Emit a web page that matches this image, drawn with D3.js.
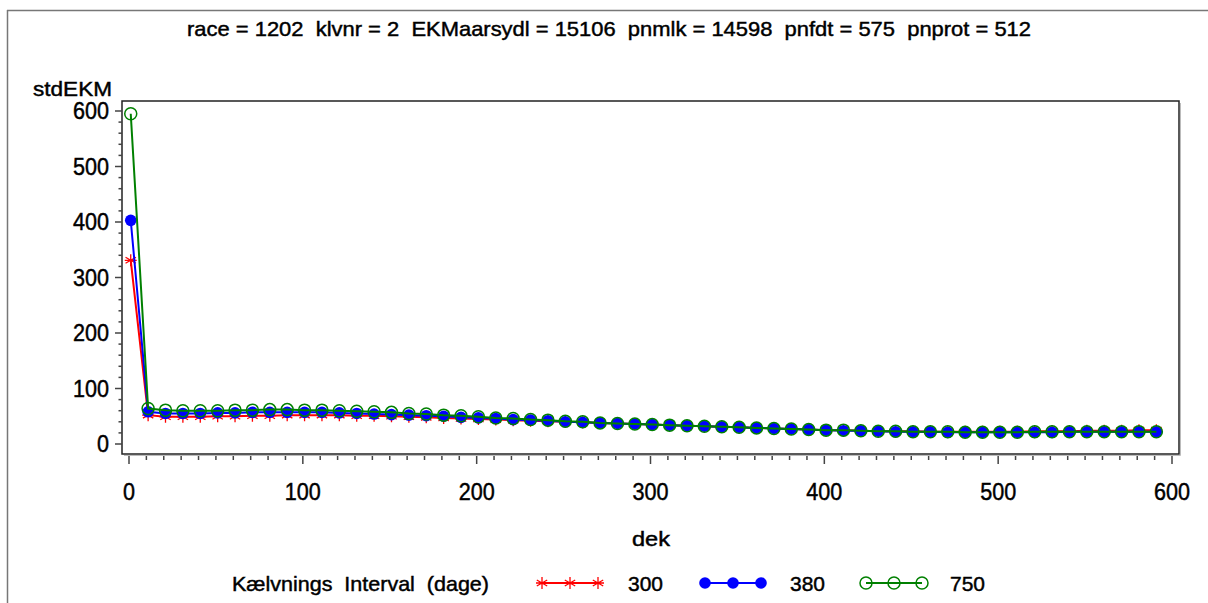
<!DOCTYPE html>
<html>
<head>
<meta charset="utf-8">
<script src="https://cdn.jsdelivr.net/npm/d3@7"></script>
<style>
  html, body { margin: 0; padding: 0; background: #fff; }
  svg { display: block; font-family: "Liberation Sans", Arial, sans-serif; }
  svg text { fill: #000; stroke: #000; stroke-width: 0.45px; white-space: pre; }
</style>
</head>
<body>
<svg id="chart" width="1208" height="603"></svg>
<script>
// Days in milk (dek) sampled every 10 days
const dek = d3.range(1, 600, 10);

const series300 = [331, 52, 49, 49, 49, 50, 50, 51, 51, 52, 52, 52, 52, 51, 51, 50, 49, 48, 47, 46,
  45, 44, 43, 42, 41, 40, 39, 38, 37, 36, 35, 34, 33, 32, 31, 30, 29, 28, 27, 26,
  25, 25, 24, 23, 23, 23, 22, 22, 22, 22, 22, 22, 23, 23, 23, 24, 24, 24, 25, 25];
const series380 = [403, 58, 55, 55, 55, 56, 56, 57, 57, 57, 57, 57, 56, 55, 54, 53, 52, 51, 50, 48,
  47, 46, 44, 43, 42, 40, 39, 38, 37, 36, 35, 34, 33, 32, 31, 30, 29, 28, 27, 26,
  25, 24, 24, 23, 22, 22, 22, 21, 21, 21, 21, 21, 21, 21, 22, 22, 22, 22, 22, 22];
const series750 = [595, 64, 61, 60, 60, 60, 61, 61, 62, 62, 61, 61, 60, 59, 58, 57, 55, 54, 52, 51,
  49, 47, 46, 44, 43, 41, 40, 38, 37, 36, 35, 34, 33, 32, 31, 30, 29, 28, 27, 26,
  25, 25, 24, 23, 23, 22, 22, 22, 21, 21, 21, 21, 22, 22, 22, 22, 22, 22, 22, 22];

const seriesNames = ["300", "380", "750"];
const xTicks = [0, 100, 200, 300, 400, 500, 600];
const yTicks = [0, 100, 200, 300, 400, 500, 600];
const titleText = "race = 1202  klvnr = 2  EKMaarsydl = 15106  pnmlk = 14598  pnfdt = 575  pnprot = 512";

const svg = d3.select("#chart");

// outer page border (top and left edges)
svg.append("line").attr("x1", 7).attr("x2", 1208).attr("y1", 10.5).attr("y2", 10.5)
  .attr("stroke", "#777").attr("stroke-width", 1.5);
svg.append("line").attr("x1", 7.5).attr("x2", 7.5).attr("y1", 10).attr("y2", 603)
  .attr("stroke", "#777").attr("stroke-width", 1.5);

const x = d3.scaleLinear().domain([0, 600]).range([129, 1172]);
const y = d3.scaleLinear().domain([0, 600]).range([444, 111]);

const frame = { left: 122, right: 1179, top: 101, bottom: 454 };

// plot frame
svg.append("rect")
  .attr("x", frame.left).attr("y", frame.top)
  .attr("width", frame.right - frame.left).attr("height", frame.bottom - frame.top)
  .attr("fill", "none").attr("stroke", "#222").attr("stroke-width", 1.5);
// drop shadow on right/bottom of frame
svg.append("path")
  .attr("d", `M${frame.right + 1.5},${frame.top + 2} V${frame.bottom + 1.5} H${frame.left + 2}`)
  .attr("fill", "none").attr("stroke", "#bbb").attr("stroke-width", 1);

// title
svg.append("text")
  .attr("x", 609).attr("y", 36)
  .attr("text-anchor", "middle")
  .attr("font-size", 21)
  .attr("textLength", 844).attr("lengthAdjust", "spacingAndGlyphs")
  .text(titleText);

// y axis ticks (minor every 20, major every 100)
const yAxisG = svg.append("g");
d3.range(0, 601, 20).forEach(v => {
  const major = v % 100 === 0;
  yAxisG.append("line")
    .attr("x1", major ? 115 : 118.5).attr("x2", frame.left)
    .attr("y1", y(v)).attr("y2", y(v))
    .attr("stroke", "#444").attr("stroke-width", 1.5);
});
yAxisG.selectAll("text.ylab").data(yTicks).join("text")
  .attr("class", "ylab")
  .attr("x", 109).attr("y", d => y(d) + 8)
  .attr("text-anchor", "end")
  .attr("font-size", 23)
  .attr("textLength", d => String(d).length * 12)
  .attr("lengthAdjust", "spacingAndGlyphs")
  .text(d => d);

// x axis ticks (minor every 10, major every 100)
const xAxisG = svg.append("g");
d3.range(0, 601, 10).forEach(v => {
  const major = v % 100 === 0;
  xAxisG.append("line")
    .attr("x1", x(v)).attr("x2", x(v))
    .attr("y1", frame.bottom + 2).attr("y2", major ? 464 : 460)
    .attr("stroke", "#444").attr("stroke-width", 1.5);
});
xAxisG.selectAll("text.xlab").data(xTicks).join("text")
  .attr("class", "xlab")
  .attr("x", d => x(d)).attr("y", 500)
  .attr("text-anchor", "middle")
  .attr("font-size", 23)
  .attr("textLength", d => String(d).length * 12)
  .attr("lengthAdjust", "spacingAndGlyphs")
  .text(d => d);

// axis titles
svg.append("text").attr("x", 33).attr("y", 96)
  .attr("font-size", 21).attr("textLength", 79).attr("lengthAdjust", "spacingAndGlyphs")
  .text("stdEKM");
svg.append("text").attr("x", 651).attr("y", 546).attr("text-anchor", "middle")
  .attr("font-size", 21).attr("textLength", 38).attr("lengthAdjust", "spacingAndGlyphs")
  .text("dek");

// marker helpers
function starPath(cx, cy, r) {
  const parts = [];
  [0, 60, 120].forEach(a => {
    const rad = a * Math.PI / 180 + Math.PI / 2;
    const dx = Math.cos(rad) * r, dy = Math.sin(rad) * r;
    parts.push(`M${cx - dx},${cy - dy}L${cx + dx},${cy + dy}`);
  });
  parts.push(`M${cx - r},${cy}L${cx + r},${cy}`);
  return parts.join("");
}
function drawMarker(g, kind, cx, cy, color) {
  if (kind === "star") {
    g.append("path").attr("d", starPath(cx, cy, 6))
      .attr("stroke", color).attr("stroke-width", 1.3).attr("fill", "none");
  } else if (kind === "dot") {
    g.append("circle").attr("cx", cx).attr("cy", cy).attr("r", 5.8).attr("fill", color);
  } else {
    g.append("circle").attr("cx", cx).attr("cy", cy).attr("r", 6)
      .attr("fill", "none").attr("stroke", color).attr("stroke-width", 1.5);
  }
}

const series = [
  { name: seriesNames[0], values: series300, color: "#ff0000", marker: "star" },
  { name: seriesNames[1], values: series380, color: "#0000ff", marker: "dot" },
  { name: seriesNames[2], values: series750, color: "#008000", marker: "ring" }
];

const line = d3.line().x(d => x(d[0])).y(d => y(d[1]));

series.forEach(s => {
  const g = svg.append("g");
  const pts = dek.map((d, i) => [d, s.values[i]]);
  g.append("path").attr("d", line(pts))
    .attr("fill", "none").attr("stroke", s.color).attr("stroke-width", 2);
  pts.forEach(p => drawMarker(g, s.marker, x(p[0]), y(p[1]), s.color));
});

// legend
const legY = 583;
svg.append("text").attr("x", 232).attr("y", legY + 8)
  .attr("font-size", 21).attr("textLength", 257).attr("lengthAdjust", "spacingAndGlyphs")
  .text("Kælvnings  Interval  (dage)");
const legendItems = [
  { x0: 542, lab: 628 },
  { x0: 705, lab: 790 },
  { x0: 866, lab: 950 }
];
series.forEach((s, i) => {
  const it = legendItems[i];
  const g = svg.append("g");
  g.append("line").attr("x1", it.x0).attr("x2", it.x0 + 56).attr("y1", legY).attr("y2", legY)
    .attr("stroke", s.color).attr("stroke-width", 2);
  [0, 28, 56].forEach(o => drawMarker(g, s.marker, it.x0 + o, legY, s.color));
  g.append("text").attr("x", it.lab).attr("y", legY + 8)
    .attr("font-size", 21).attr("textLength", 35).attr("lengthAdjust", "spacingAndGlyphs")
    .text(s.name);
});
</script>
</body>
</html>
